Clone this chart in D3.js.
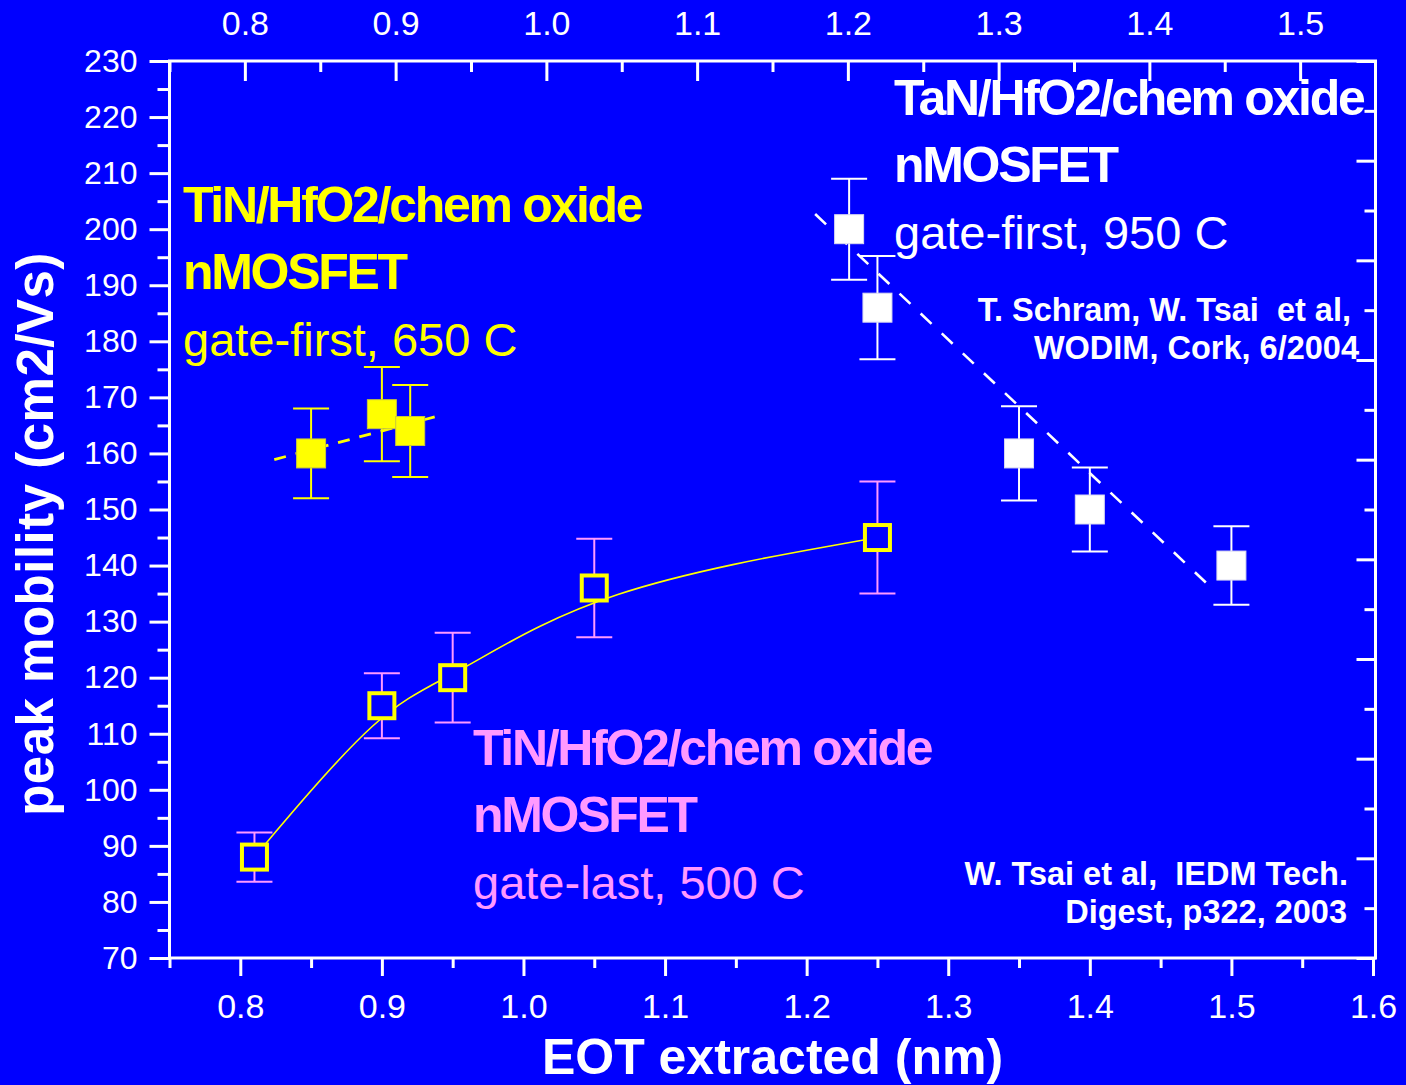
<!DOCTYPE html>
<html>
<head>
<meta charset="utf-8">
<script src="https://cdn.jsdelivr.net/npm/d3@7"></script>
<style>
  html, body { margin: 0; padding: 0; background: #0000ff; }
  svg { display: block; }
  text { font-family: "Liberation Sans", Arial, Helvetica, sans-serif; white-space: pre; }
</style>
</head>
<body>
<svg id="chart" width="1406" height="1085"></svg>
<script>
// ---- data -------------------------------------------------------------
// TiN/HfO2 gate-first, 650 C (filled yellow squares)
const tinFirstEot = [0.85, 0.90, 0.92];
const tinFirstMob = [160, 167, 164];
const tinFirstErr = [8.0, 8.4, 8.2];

// TaN/HfO2 gate-first, 950 C (filled white squares)
const tanFirstEot = [1.23, 1.25, 1.35, 1.40, 1.50];
const tanFirstMob = [200, 186, 160, 150, 140];
const tanFirstErr = [9.0, 9.2, 8.4, 7.5, 7.0];

// TiN/HfO2 gate-last, 500 C (open squares)
const tinLastEot = [0.81, 0.90, 0.95, 1.05, 1.25];
const tinLastMob = [88, 115, 120, 136, 145];
const tinLastErr = [4.4, 5.8, 8.0, 8.8, 10.0];

// dashed trend lines (end points)
const tinFirstTrendEot = [0.824, 0.940];
const tinFirstTrendMob = [158.9, 166.7];
const tanFirstTrendEot = [1.206, 1.489];
const tanFirstTrendMob = [202.7, 135.3];

// axis ticks
const bottomMajor = [0.8, 0.9, 1.0, 1.1, 1.2, 1.3, 1.4, 1.5, 1.6];
const bottomMinor = [0.75, 0.85, 0.95, 1.05, 1.15, 1.25, 1.35, 1.45, 1.55];
const topMajor = [0.8, 0.9, 1.0, 1.1, 1.2, 1.3, 1.4, 1.5];
const topMinor = [0.75, 0.85, 0.95, 1.05, 1.15, 1.25, 1.35, 1.45];
const leftMajor = [70, 80, 90, 100, 110, 120, 130, 140, 150, 160, 170, 180, 190, 200, 210, 220, 230];
const leftMinor = [75, 85, 95, 105, 115, 125, 135, 145, 155, 165, 175, 185, 195, 205, 215, 225];
const rightMajor = [0, 2, 4, 6, 8, 10, 12, 14, 16, 18];
const rightMinor = [1, 3, 5, 7, 9, 11, 13, 15, 17];

// text blocks
const tinFirstLabel = ["TiN/HfO2/chem oxide", "nMOSFET", "gate-first, 650 C"];
const tanFirstLabel = ["TaN/HfO2/chem oxide", "nMOSFET", "gate-first, 950 C"];
const tinLastLabel = ["TiN/HfO2/chem oxide", "nMOSFET", "gate-last, 500 C"];
const schramRef = ["T. Schram, W. Tsai  et al,", "WODIM, Cork, 6/2004"];
const tsaiRef = ["W. Tsai et al,  IEDM Tech.", "Digest, p322, 2003"];
const xTitle = "EOT extracted (nm)";
const yTitle = "peak mobility (cm2/Vs)";

// ---- styling ----------------------------------------------------------
const BG = "#0000ff";
const YELLOW = "#ffff00";
const PINK = "#ff99ff";
const WHITE = "#ffffff";

const plotL = 169.5, plotR = 1375.5, plotT = 61, plotB = 958;

const svg = d3.select("#chart");
svg.append("rect").attr("width", 1406).attr("height", 1085).attr("fill", BG);

const x = d3.scaleLinear().domain([0.75, 1.6]).range([plotL, 1373]);
const xTop = d3.scaleLinear().domain([0.75, 1.55]).range([plotL, plotR]);
const y = d3.scaleLinear().domain([70, 230]).range([plotB, plotT]);
const yRight = d3.scaleLinear().domain([0, 18]).range([plotB, plotT]);

const fmt1 = d3.format(".1f");

function styleAxis(g, fontSize) {
  g.attr("font-family", null).attr("font-size", null);
  g.select(".domain").remove();
  g.selectAll(".tick line").attr("stroke", WHITE).attr("stroke-width", 3);
  g.selectAll(".tick text").attr("fill", WHITE).style("font-size", fontSize + "px");
  return g;
}

// bottom axis
svg.append("g").attr("transform", `translate(0,${plotB})`)
  .call(d3.axisBottom(x).tickValues(bottomMinor).tickSize(10).tickFormat(""))
  .call(g => styleAxis(g, 34));
svg.append("g").attr("transform", `translate(0,${plotB})`)
  .call(d3.axisBottom(x).tickValues(bottomMajor).tickSize(18).tickPadding(18).tickFormat(fmt1))
  .call(g => styleAxis(g, 34));

// top axis (ticks point inward)
svg.append("g").attr("transform", `translate(0,${plotT})`)
  .call(d3.axisTop(xTop).tickValues(topMinor).tickSize(-11).tickFormat(""))
  .call(g => styleAxis(g, 34));
svg.append("g").attr("transform", `translate(0,${plotT})`)
  .call(d3.axisTop(xTop).tickValues(topMajor).tickSize(-20).tickPadding(26).tickFormat(fmt1))
  .call(g => styleAxis(g, 34));

// left axis
svg.append("g").attr("transform", `translate(${plotL},0)`)
  .call(d3.axisLeft(y).tickValues(leftMinor).tickSize(12).tickFormat(""))
  .call(g => styleAxis(g, 32));
svg.append("g").attr("transform", `translate(${plotL},0)`)
  .call(d3.axisLeft(y).tickValues(leftMajor).tickSize(20).tickPadding(12).tickFormat(d3.format("d")))
  .call(g => styleAxis(g, 32));

// right axis (unlabelled, ticks point inward)
svg.append("g").attr("transform", `translate(${plotR},0)`)
  .call(d3.axisRight(yRight).tickValues(rightMinor).tickSize(-11).tickFormat(""))
  .call(g => styleAxis(g, 10));
svg.append("g").attr("transform", `translate(${plotR},0)`)
  .call(d3.axisRight(yRight).tickValues(rightMajor).tickSize(-19).tickFormat(""))
  .call(g => styleAxis(g, 10));

// frame
svg.append("rect")
  .attr("x", plotL).attr("y", plotT)
  .attr("width", plotR - plotL).attr("height", plotB - plotT)
  .attr("fill", "none").attr("stroke", WHITE).attr("stroke-width", 3);

// axis titles
svg.append("text")
  .attr("x", (plotL + plotR) / 2).attr("y", 1074)
  .attr("text-anchor", "middle").attr("fill", WHITE)
  .style("font-size", "50px").style("font-weight", "bold")
  .text(xTitle);
svg.append("text")
  .attr("transform", `translate(53,534) rotate(-90)`)
  .attr("text-anchor", "middle").attr("fill", WHITE)
  .style("font-size", "51px").style("font-weight", "bold").style("letter-spacing", "0.5px")
  .text(yTitle);

// ---- series -----------------------------------------------------------
const zip = (xs, ys, es) => xs.map((v, i) => ({ x: v, y: ys[i], e: es ? es[i] : 0 }));
const tinFirst = zip(tinFirstEot, tinFirstMob, tinFirstErr);
const tanFirst = zip(tanFirstEot, tanFirstMob, tanFirstErr);
const tinLast = zip(tinLastEot, tinLastMob, tinLastErr);

const CAP = 18;
function errorBars(data, color) {
  const g = svg.append("g").attr("stroke", color).attr("stroke-width", 2).attr("fill", "none");
  data.forEach(d => {
    const cx = x(d.x), y1 = y(d.y + d.e), y2 = y(d.y - d.e);
    g.append("line").attr("x1", cx).attr("x2", cx).attr("y1", y1).attr("y2", y2);
    g.append("line").attr("x1", cx - CAP).attr("x2", cx + CAP).attr("y1", y1).attr("y2", y1);
    g.append("line").attr("x1", cx - CAP).attr("x2", cx + CAP).attr("y1", y2).attr("y2", y2);
  });
}

errorBars(tinFirst, YELLOW);
errorBars(tanFirst, WHITE);
errorBars(tinLast, PINK);

// B-spline through the gate-last points
const smooth = d3.line().x(d => x(d.x)).y(d => y(d.y)).curve(d3.curveBasis);
svg.append("path")
  .datum(tinLast)
  .attr("d", smooth)
  .attr("fill", "none").attr("stroke", YELLOW).attr("stroke-width", 1.6);

// dashed trend lines
const straight = d3.line().x(d => x(d.x)).y(d => y(d.y));
svg.append("path")
  .datum(zip(tinFirstTrendEot, tinFirstTrendMob))
  .attr("d", straight)
  .attr("fill", "none").attr("stroke", YELLOW).attr("stroke-width", 2.8)
  .attr("stroke-dasharray", "12,10");
svg.append("path")
  .datum(zip(tanFirstTrendEot, tanFirstTrendMob))
  .attr("d", straight)
  .attr("fill", "none").attr("stroke", WHITE).attr("stroke-width", 2.6)
  .attr("stroke-dasharray", "15,14");

// markers
const S = 29;
function filledSquares(data, fill, edge) {
  svg.append("g").selectAll("rect").data(data).join("rect")
    .attr("x", d => x(d.x) - S / 2).attr("y", d => y(d.y) - S / 2)
    .attr("width", S).attr("height", S)
    .attr("fill", fill).attr("stroke", edge).attr("stroke-width", 1);
}
filledSquares(tinFirst, YELLOW, "#c8c83c");
filledSquares(tanFirst, WHITE, "#d8d8f0");

svg.append("g").selectAll("rect").data(tinLast).join("rect")
  .attr("x", d => x(d.x) - (S - 4) / 2).attr("y", d => y(d.y) - (S - 4) / 2)
  .attr("width", S - 4).attr("height", S - 4)
  .attr("fill", BG).attr("stroke", YELLOW).attr("stroke-width", 4);

// ---- annotations ------------------------------------------------------
function block(lines, x0, y0, color) {
  const step = 67;
  lines.forEach((t, i) => {
    const bold = i < 2;
    svg.append("text")
      .attr("x", x0).attr("y", y0 + i * step)
      .attr("fill", color)
      .style("font-size", bold ? "50px" : "47px")
      .style("font-weight", bold ? "bold" : "normal")
      .style("letter-spacing", bold ? "-2.3px" : "0px")
      .text(t);
  });
}
block(tinFirstLabel, 183, 221.5, YELLOW);
block(tanFirstLabel, 894, 115, WHITE);
block(tinLastLabel, 473, 765, PINK);

function refText(lines, xs, ys) {
  lines.forEach((t, i) => {
    svg.append("text")
      .attr("x", xs[i]).attr("y", ys[i])
      .attr("text-anchor", "end").attr("fill", WHITE)
      .style("font-size", "32.5px").style("font-weight", "bold")
      .text(t);
  });
}
refText(schramRef, [1351, 1359], [321, 358.5]);
refText(tsaiRef, [1348, 1347], [885, 922.5]);
</script>
</body>
</html>
